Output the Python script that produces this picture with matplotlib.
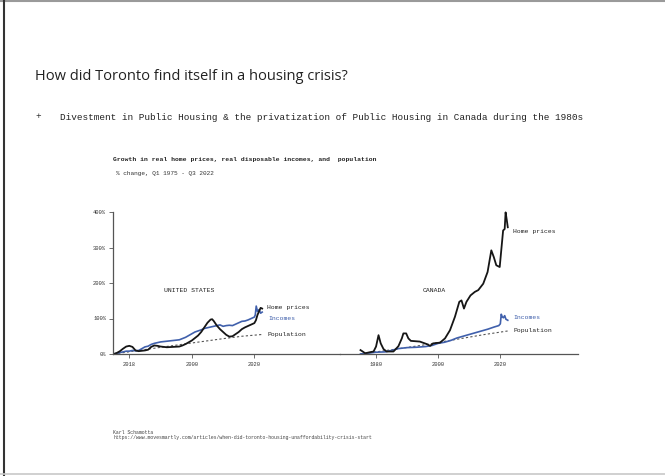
import matplotlib
matplotlib.use('Agg')
import matplotlib.pyplot as plt
from matplotlib.lines import Line2D

# United States (% change since Q1 1975)
us_home_years = [1975, 1976, 1977, 1978, 1979, 1980, 1981, 1982, 1983, 1984, 1985, 1986, 1987,
                 1988, 1989, 1990, 1992, 1994, 1996, 1997, 1998, 1999, 2000, 2001, 2002, 2003,
                 2004, 2005, 2006, 2006.5, 2007, 2008, 2009, 2010, 2011, 2012, 2013, 2014, 2015,
                 2016, 2017, 2018, 2019, 2020, 2020.5, 2021, 2021.5, 2022, 2022.5]
us_home = [0, 3, 8, 15, 21, 23, 20, 10, 8, 9, 10, 12, 20, 24, 23, 21, 19, 20, 21, 24, 28, 33, 38,
           45, 52, 62, 75, 88, 97, 98, 93, 80, 70, 62, 54, 49, 50, 56, 62, 70, 75, 79, 83, 87, 95,
           110, 120, 130, 128]

us_inc_years = [1975, 1977, 1979, 1980, 1981, 1982, 1983, 1984, 1985, 1986, 1987, 1988, 1990,
                1992, 1994, 1996, 1998, 2000, 2001, 2002, 2003, 2004, 2005, 2006, 2007, 2008,
                2009, 2010, 2011, 2012, 2013, 2014, 2015, 2016, 2017, 2018, 2019, 2020, 2020.3,
                2020.6, 2021, 2021.5, 2022, 2022.5]
us_inc = [0, 4, 8, 8, 10, 9, 10, 15, 20, 22, 27, 30, 34, 36, 38, 40, 47, 57, 62, 65, 68, 72, 74,
          76, 78, 80, 82, 78, 80, 81, 80, 84, 88, 92, 93, 96, 100, 104, 110, 135, 120, 125, 115, 118]

us_pop_years = [1975, 1983, 1991, 2000, 2009, 2016, 2022.5]
us_pop = [0, 10, 20, 31, 42, 50, 55]

# Canada
ca_home_years = [1975, 1975.7, 1976.5, 1978, 1979.2, 1980, 1980.8, 1981.5, 1982.4, 1983.4, 1985.6,
                 1987.2, 1988.3, 1988.8, 1989.7, 1990.4, 1991.2, 1994.1, 1996.3, 1997.4, 1998.4,
                 2000.6, 2002.2, 2003.8, 2005.4, 2006.8, 2007.5, 2008.3, 2009.1, 2010.4, 2011.8,
                 2012.9, 2014.5, 2015.9, 2017.1, 2017.9, 2018.7, 2019.8, 2020.3, 2020.9, 2021.4,
                 2021.7, 2022.1, 2022.4]
ca_home = [11, 7, 2, 5, 7, 21, 53, 30, 14, 7, 7, 22, 44, 58, 58, 44, 37, 35, 28, 23, 30, 32, 44,
           67, 105, 147, 151, 128, 147, 165, 175, 180, 198, 231, 292, 273, 250, 245, 292, 348,
           352, 399, 376, 357]

ca_inc_years = [1975, 1978, 1980, 1983, 1985, 1987, 1990, 1993, 1996, 1998, 2000, 2002, 2004,
                2006, 2008, 2010, 2012, 2014, 2016, 2018, 2019.5, 2020, 2020.3, 2020.6, 2021,
                2021.4, 2021.8, 2022.4]
ca_inc = [0, 3, 5, 6, 10, 15, 18, 19, 21, 24, 30, 33, 38, 45, 50, 55, 60, 65, 70, 76, 80, 85, 112,
          105, 102, 108, 98, 95]

ca_pop_years = [1975, 1985, 1995, 2005, 2015, 2022.5]
ca_pop = [0, 12, 25, 40, 55, 65]

y_ticks = [0, 100, 200, 300, 400]
y_labels = ['0%', '100%', '200%', '300%', '400%']
us_xticks = [1980, 2000, 2020]
us_xlabels = ['2018', '2000', '2020']
ca_xticks = [1980, 2000, 2020]
ca_xlabels = ['1980', '2000', '2020']

mono = 'Liberation Mono'
black = '#161616'
blue = '#4060ac'

W, H = 665, 476
fig = plt.figure(figsize=(W / 100, H / 100), dpi=100)

# slide frame
fig.add_artist(Line2D([0, 1], [1 - 0.8 / H, 1 - 0.8 / H], color='#9a9a9a', lw=1.5, transform=fig.transFigure))
fig.add_artist(Line2D([4 / W, 4 / W], [0, 1], color='#333333', lw=1.5, transform=fig.transFigure))
fig.add_artist(Line2D([0, 1], [2 / H, 2 / H], color='#c8c8c8', lw=1.2, transform=fig.transFigure))

fig.text(35 / W, 1 - 77 / H, 'How did Toronto find itself in a housing crisis?',
         fontsize=10.5, family='Open Sans', color='#222222', va='center')
fig.text(35 / W, 1 - 117 / H, '+', fontsize=6.75, family=mono, color='#222222', va='center')
fig.text(60 / W, 1 - 117 / H,
         'Divestment in Public Housing & the privatization of Public Housing in Canada during the 1980s',
         fontsize=6.75, family=mono, color='#222222', va='center')

fig.text(113 / W, 1 - 160 / H,
         'Growth in real home prices, real disposable incomes, and  population',
         fontsize=4.6, family=mono, weight='bold', color='#222222', va='center')
fig.text(116 / W, 1 - 173 / H, '% change, Q1 1975 - Q3 2022',
         fontsize=4.4, family=mono, color='#333333', va='center')

fig.text(113 / W, 1 - 432 / H, 'Karl Schamotta', fontsize=3.5, family=mono, color='#444444', va='center')
fig.text(113 / W, 1 - 438 / H,
         'https://www.movesmartly.com/articles/when-did-toronto-housing-unaffordability-crisis-start',
         fontsize=3.5, family=mono, color='#444444', va='center')

# axes placement (pixels)
y_lo, y_hi = -8, 405
px_per_pct = 0.355
bot = (H - (354 + (0 - y_lo) * px_per_pct)) / H
top = (H - (354 - y_hi * px_per_pct)) / H

ax1 = fig.add_axes([113 / W, bot, (340 - 113) / W, top - bot])
ax2 = fig.add_axes([340 / W, bot, (578 - 340) / W, top - bot])

ax1.set_xlim(1974.78, 2047.4)
ax2.set_xlim(1968.4, 2045.0)

for ax in (ax1, ax2):
    ax.set_ylim(y_lo, y_hi)
    ax.patch.set_visible(False)
    ax.spines['top'].set_visible(False)
    ax.spines['right'].set_visible(False)
    ax.spines['bottom'].set_position(('data', 0))
    ax.spines['bottom'].set_color('#555555')
    ax.spines['bottom'].set_linewidth(0.9)
    ax.tick_params(axis='x', length=3, width=0.6, color='#555555', labelsize=3.9, pad=3)

ax1.spines['left'].set_bounds(0, 400)
ax1.spines['left'].set_color('#555555')
ax1.spines['left'].set_linewidth(0.9)
ax1.set_yticks(y_ticks)
ax1.set_yticklabels(y_labels, family=mono, fontsize=3.9, color='#333333')
ax1.tick_params(axis='y', length=3, width=0.6, color='#555555', pad=2)
ax1.set_xticks(us_xticks)
ax1.set_xticklabels(us_xlabels, family=mono, fontsize=3.9, color='#333333')

ax2.spines['left'].set_visible(False)
ax2.set_yticks([])
ax2.set_xticks(ca_xticks)
ax2.set_xticklabels(ca_xlabels, family=mono, fontsize=3.9, color='#333333')

# US panel
ax1.plot(us_pop_years, us_pop, color='#555555', lw=0.8, ls=(0, (2, 2)))
ax1.plot(us_inc_years, us_inc, color=blue, lw=1.2)
ax1.plot(us_home_years, us_home, color=black, lw=1.3)
ax1.text(1999, 180, 'UNITED STATES', family=mono, fontsize=4.6, ha='center', va='center', color='#222222')
ax1.text(2024.1, 132, 'Home prices', family=mono, fontsize=4.6, va='center', color='#222222')
ax1.text(2024.4, 100, 'Incomes', family=mono, fontsize=4.6, va='center', color=blue)
ax1.text(2024.1, 56, 'Population', family=mono, fontsize=4.6, va='center', color='#222222')

# Canada panel
ax2.plot(ca_pop_years, ca_pop, color='#555555', lw=0.8, ls=(0, (2, 2)))
ax2.plot(ca_inc_years, ca_inc, color=blue, lw=1.2)
ax2.plot(ca_home_years, ca_home, color=black, lw=1.3)
ax2.text(1998.8, 180, 'CANADA', family=mono, fontsize=4.6, ha='center', va='center', color='#222222')
ax2.text(2024.1, 344, 'Home prices', family=mono, fontsize=4.6, va='center', color='#222222')
ax2.text(2024.1, 104, 'Incomes', family=mono, fontsize=4.6, va='center', color=blue)
ax2.text(2024.1, 65, 'Population', family=mono, fontsize=4.6, va='center', color='#222222')

fig.savefig('out.png', dpi=100)
